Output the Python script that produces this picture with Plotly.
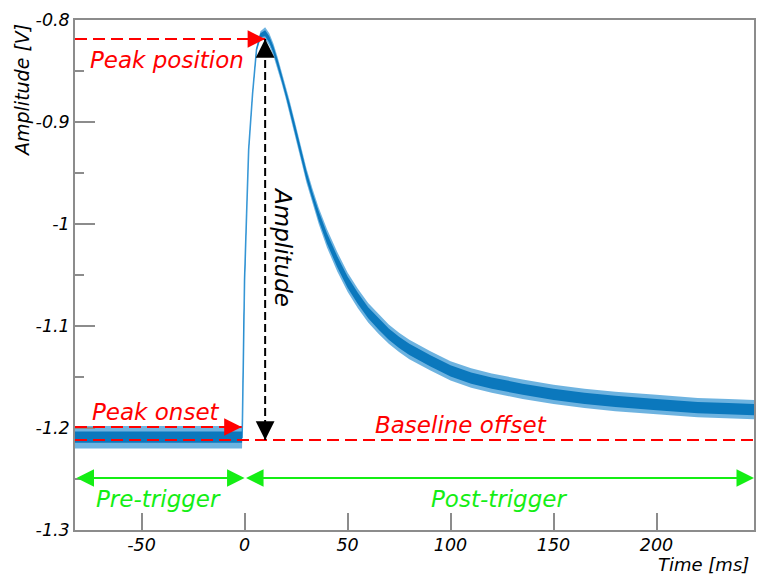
import plotly.graph_objects as go

# Recorded pulse: time (ms), mean signal level (V) and noise envelope half-widths (V)
time_ms = [-82.3, -60, -40, -20, -1.2, -1.0, -0.5, 0.0, 1.0, 2.0, 3.9, 5.8, 7.7,
           10, 12, 14, 16, 18, 20, 22, 24, 26, 28, 30, 33, 36, 40, 45, 50, 55, 60,
           65, 70, 75, 80, 90, 100, 110, 120, 135, 150, 165, 180, 200, 220, 235, 247.3]
level_v = [-1.209, -1.209, -1.209, -1.209, -1.209, -1.190, -1.100, -1.055, -0.990,
           -0.927, -0.872, -0.829, -0.815, -0.813, -0.819, -0.829, -0.842, -0.856,
           -0.871, -0.886, -0.902, -0.919, -0.936, -0.952, -0.973, -0.992, -1.014,
           -1.037, -1.057, -1.073, -1.087, -1.098, -1.108, -1.116, -1.123, -1.134,
           -1.144, -1.151, -1.156, -1.162, -1.167, -1.171, -1.174, -1.177, -1.180,
           -1.181, -1.182]
noise_core = [0.0055, 0.0055, 0.0055, 0.0055, 0.0055, 0.0005, 0.0005, 0.0005, 0.0005,
              0.0005, 0.0005, 0.001, 0.002, 0.003, 0.003, 0.003, 0.003, 0.003,
              0.003, 0.003, 0.003, 0.0035, 0.0035, 0.004, 0.004, 0.0045, 0.005,
              0.0055, 0.0055, 0.0055, 0.0055, 0.0055, 0.0055, 0.0055, 0.0055, 0.0055,
              0.0055, 0.0055, 0.0055, 0.0055, 0.0055, 0.0055, 0.0055, 0.0055, 0.0055,
              0.0055, 0.0055]
noise_spread = [0.011, 0.011, 0.011, 0.011, 0.011, 0.001, 0.001, 0.001, 0.001,
                0.001, 0.001, 0.002, 0.004, 0.006, 0.006, 0.006, 0.006, 0.006,
                0.006, 0.006, 0.006, 0.0065, 0.0065, 0.007, 0.0075, 0.008, 0.009,
                0.0095, 0.0095, 0.0095, 0.0095, 0.0095, 0.0095, 0.0095, 0.0095, 0.0095,
                0.0095, 0.0095, 0.0095, 0.0095, 0.0095, 0.0095, 0.0095, 0.0095, 0.0095,
                0.0095, 0.0095]

# Axis ticks
x_ticks = [-50, 0, 50, 100, 150, 200]
x_tick_text = ["-50", "0", "50", "100", "150", "200"]
y_ticks = [-1.3, -1.2, -1.1, -1.0, -0.9, -0.8]
y_tick_text = ["-1.3", "-1.2", "-1.1", "-1", "-0.9", "-0.8"]
y_minor_ticks = [-1.25, -1.15, -1.05, -0.95, -0.85]

# Characteristic pulse parameters
t_start, t_end = -82.3, 247.3
trigger_time = 0.0
peak_time = 10.0
peak_level = -0.8186
onset_time = -1.4
onset_level = -1.199
baseline_level = -1.2118
window_level = -1.249

RED = "#ff0000"
GREEN = "#14ee14"
BLACK = "#000000"
AXIS_GREY = "#8c8c8c"
FONT = "DejaVu Sans"


def band(lo_off, hi_off):
    up = [c + h for c, h in zip(level_v, hi_off)]
    lo = [c - h for c, h in zip(level_v, lo_off)]
    return time_ms + time_ms[::-1], up + lo[::-1]


fig = go.Figure()

bx, by = band(noise_spread, noise_spread)
fig.add_trace(go.Scatter(x=bx, y=by, fill="toself", mode="lines",
                         line=dict(width=0), fillcolor="rgba(74,160,216,0.80)",
                         hoverinfo="skip"))
fig.add_trace(go.Scatter(x=time_ms, y=level_v, mode="lines",
                         line=dict(color="#3c9ad8", width=1.6)))
cx, cy = band(noise_core, noise_core)
fig.add_trace(go.Scatter(x=cx, y=cy, fill="toself", mode="lines",
                         line=dict(width=0), fillcolor="#0b78bd",
                         hoverinfo="skip"))

# Dashed guide lines
fig.add_shape(type="line", x0=t_start, x1=peak_time, y0=peak_level, y1=peak_level,
              line=dict(color=RED, width=2, dash="12px,6px"))
fig.add_shape(type="line", x0=t_start, x1=onset_time, y0=onset_level, y1=onset_level,
              line=dict(color=RED, width=2, dash="12px,6px"))
fig.add_shape(type="line", x0=t_start, x1=t_end, y0=baseline_level, y1=baseline_level,
              line=dict(color=RED, width=2, dash="12px,6px"))
fig.add_shape(type="line", x0=peak_time, x1=peak_time, y0=baseline_level, y1=peak_level,
              line=dict(color=BLACK, width=2, dash="8px,4px"))


def head(x, y, ax, ay, color, width, size):
    fig.add_annotation(x=x, y=y, ax=ax, ay=ay, text="", showarrow=True,
                       arrowhead=2, arrowsize=size, arrowwidth=width,
                       arrowcolor=color, standoff=0)


head(peak_time, peak_level, -18, 0, RED, 2, 1.75)
head(onset_time, onset_level, -18, 0, RED, 2, 1.75)
head(peak_time, peak_level, 0, 19, BLACK, 1.5, 2.5)
head(peak_time, baseline_level, 0, -19, BLACK, 1.5, 2.5)

# Trigger windows (double-headed)
for a, b in [(t_start, trigger_time), (trigger_time, t_end)]:
    fig.add_annotation(x=b, y=window_level, ax=a, ay=window_level,
                       axref="x", ayref="y", text="", showarrow=True,
                       arrowside="end+start", arrowhead=2, startarrowhead=2,
                       arrowsize=1.75, startarrowsize=1.75, arrowwidth=2,
                       arrowcolor=GREEN, standoff=0, startstandoff=0)

label_font = dict(family=FONT, size=23, style="italic")
labels = [
    ("Peak position", -37.5, -0.8392, RED, 0),
    ("Peak onset", -43.1, -1.1843, RED, 0),
    ("Baseline offset", 105.3, -1.1971, RED, 0),
    ("Pre-trigger", -41.9, -1.2696, GREEN, 0),
    ("Post-trigger", 123.7, -1.2696, GREEN, 0),
    ("Amplitude", 18.6, -1.0225, BLACK, 90),
]
for text, x, y, color, ang in labels:
    fig.add_annotation(x=x, y=y, text=text, showarrow=False, textangle=ang,
                       font=dict(label_font, color=color))

title_font = dict(family=FONT, size=19, style="italic", color=BLACK)
fig.add_annotation(xref="paper", yref="paper", x=0, y=0.8608, xshift=-53,
                   xanchor="center", yanchor="middle",
                   text="Amplitude [V]", textangle=-90, showarrow=False,
                   font=title_font)
fig.add_annotation(xref="paper", yref="paper", x=1, y=0, yshift=-34.5, xshift=-3,
                   xanchor="right", yanchor="middle", text="Time [ms]",
                   showarrow=False, font=dict(title_font, size=18))

tick_font = dict(family=FONT, size=17.5, style="italic", color=BLACK)
fig.update_xaxes(range=[t_start, t_end], tickmode="array", tickvals=x_ticks,
                 ticktext=x_tick_text, ticks="inside", ticklen=17, tickwidth=1.5,
                 tickcolor=AXIS_GREY, showline=True, linecolor=AXIS_GREY,
                 linewidth=1.5, mirror=True, showgrid=False, zeroline=False,
                 tickfont=tick_font, ticklabelstandoff=-2)
fig.update_yaxes(range=[-1.3, -0.8], tickmode="array", tickvals=y_ticks,
                 ticktext=y_tick_text, ticks="inside", ticklen=20, tickwidth=1.5,
                 tickcolor=AXIS_GREY, showline=True, linecolor=AXIS_GREY,
                 linewidth=1.5, mirror=True, showgrid=False, zeroline=False,
                 tickfont=tick_font,
                 minor=dict(tickmode="array", tickvals=y_minor_ticks, ticks="inside",
                            ticklen=9, tickwidth=1.5, tickcolor=AXIS_GREY,
                            showgrid=False))
fig.update_layout(width=757, height=575, margin=dict(l=75, r=1, t=20, b=45),
                  paper_bgcolor="white", plot_bgcolor="white", showlegend=False)

fig.write_html("out.html")
